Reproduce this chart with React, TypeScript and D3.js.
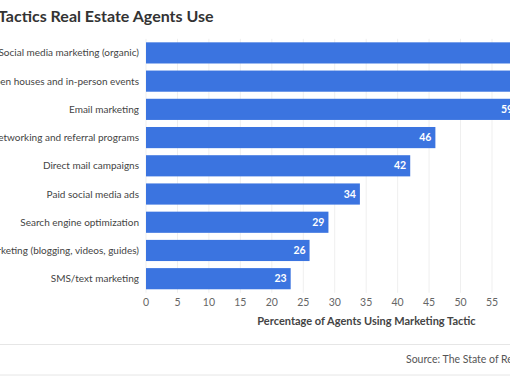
import React from "react";
import * as d3 from "d3";

const categories = [
  "Social media marketing (organic)",
  "Open houses and in-person events",
  "Email marketing",
  "Networking and referral programs",
  "Direct mail campaigns",
  "Paid social media ads",
  "Search engine optimization",
  "Content marketing (blogging, videos, guides)",
  "SMS/text marketing",
];
const values = [68, 63, 59, 46, 42, 34, 29, 26, 23];
const ticks = [0, 5, 10, 15, 20, 25, 30, 35, 40, 45, 50, 55, 60, 65, 70];
const title = "Tactics Real Estate Agents Use";
const xTitle = "Percentage of Agents Using Marketing Tactic";
const source = "Source: The State of Real Estate";

const W = 510;
const H = 382;
const FONT = "Lato, 'Noto Sans', sans-serif";

export default function App() {
  const x = d3.scaleLinear().domain([0, 55]).range([146, 492]);
  const y = d3
    .scaleBand<string>()
    .domain(categories)
    .range([38.8, 292.8])
    .paddingInner(0.25)
    .paddingOuter(0.125);

  return (
    <svg
      width={W}
      height={H}
      style={{ position: "absolute", left: 0, top: 0, background: "#fff" }}
      fontFamily={FONT}
    >
      <rect x={0} y={0} width={W} height={H} fill="#fff" />
      <text x={-2} y={22} fontSize={16} fontWeight={700} fill="#333">
        {title}
      </text>
      {ticks.map((t) => (
        <line
          key={"g" + t}
          x1={x(t)}
          x2={x(t)}
          y1={38.8}
          y2={292.8}
          stroke="#efefef"
          strokeWidth={1}
        />
      ))}
      {categories.map((c, i) => (
        <g key={c}>
          <rect
            x={x(0)}
            y={y(c)}
            width={x(values[i]) - x(0)}
            height={y.bandwidth()}
            fill="#3b74e0"
          />
          <text
            x={139}
            y={(y(c) as number) + y.bandwidth() / 2}
            dy="0.35em"
            textAnchor="end"
            fontSize={10}
            fill="#444"
          >
            {c}
          </text>
          <text
            x={x(values[i]) - 4}
            y={(y(c) as number) + y.bandwidth() / 2}
            dy="0.35em"
            textAnchor="end"
            fontSize={10.5}
            fontWeight={700}
            fill="#fff"
          >
            {values[i]}
          </text>
        </g>
      ))}
      {ticks.map((t) => (
        <text
          key={"t" + t}
          x={x(t)}
          y={302.5}
          dy="0.35em"
          textAnchor="middle"
          fontSize={10.5}
          fill="#666"
        >
          {t}
        </text>
      ))}
      <text
        x={366.5}
        y={321}
        dy="0.35em"
        textAnchor="middle"
        fontSize={11}
        fontWeight={700}
        fill="#444"
      >
        {xTitle}
      </text>
      <line x1={0} x2={W} y1={344.5} y2={344.5} stroke="#e6e6e6" />
      <line x1={0} x2={W} y1={375} y2={375} stroke="#e6e6e6" />
      <text x={406} y={359.5} dy="0.35em" fontSize={10.5} fill="#555">
        {source}
      </text>
    </svg>
  );
}
